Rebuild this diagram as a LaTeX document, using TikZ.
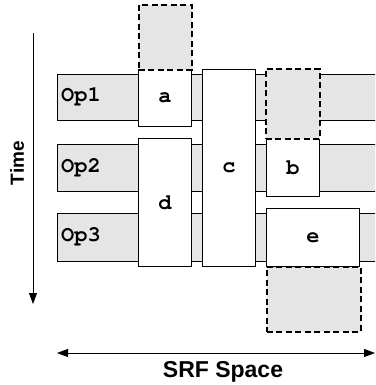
\documentclass[tikz,border=0pt]{standalone}
\usepackage{fontspec}
\setmainfont{Liberation Sans}
\newfontfamily\opmono{TeX Gyre Cursor}
\usetikzlibrary{arrows.meta}
\definecolor{barfill}{RGB}{229,229,229}
\tikzset{
  box/.style={draw, line width=0.8pt, inner sep=0pt, anchor=north west},
  barbox/.style={box, fill=barfill},
  opbox/.style={box, fill=white},
  ghost/.style={box, fill=barfill, line width=1.6pt, dash pattern=on 6pt off 3.5pt},
  oplabel/.style={font=\opmono\bfseries\fontsize{22}{22}\selectfont, inner sep=0pt},
  axislabel/.style={font=\bfseries, inner sep=0pt},
  axis/.style={line width=0.8pt},
}
\begin{document}
\begin{tikzpicture}[x=1pt,y=-1pt]
\useasboundingbox (0,0) rectangle (375,385);
\clip (0,0) rectangle (375,385);
% bars
\node[barbox, minimum width=322pt, minimum height=46pt] (op1) at (57,74) {};
\node[barbox, minimum width=322pt, minimum height=47pt] (op2) at (57,144) {};
\node[barbox, minimum width=322pt, minimum height=48pt] (op3) at (57,213) {};
\node[oplabel, anchor=west] (l1) at (61,97) {Op1};
\node[oplabel, anchor=west] (l2) at (61,167.5) {Op2};
\node[oplabel, anchor=west] (l3) at (61,237) {Op3};
% operation boxes
\node[opbox, minimum width=53pt, minimum height=57pt] (a) at (138,69) {};
\node[opbox, minimum width=53pt, minimum height=197pt] (c) at (202,69) {};
\node[opbox, minimum width=53pt, minimum height=58pt] (b) at (266,138) {};
\node[opbox, minimum width=53pt, minimum height=128pt] (d) at (138,138) {};
\node[opbox, minimum width=93pt, minimum height=58pt] (e) at (266,208) {};
\node[oplabel] at (a.center) {a};
\node[oplabel] at (c.center) {c};
\node[oplabel] at (b.center) {b};
\node[oplabel] at (d.center) {d};
\node[oplabel] at (e.center) {e};
% dashed ghost boxes
\node[ghost, minimum width=53pt, minimum height=65pt] (ga) at (138,4) {};
\node[ghost, minimum width=54pt, minimum height=70pt] (gb) at (265,68) {};
\node[ghost, minimum width=94pt, minimum height=65pt] (ge) at (266,266) {};
% axes
\coordinate (t0) at (33,33);
\coordinate (t1) at (33,304);
\draw[axis, -{Triangle[length=11pt,width=8pt]}] (t0) -- (t1);
\node[axislabel, rotate=90, font=\bfseries\fontsize{19}{19}\selectfont] (time) at (17,163) {Time};
\coordinate (s0) at (57,353);
\coordinate (s1) at (375,353);
\draw[axis, {Triangle[length=11pt,width=8pt]}-{Triangle[length=11pt,width=8pt]}] (s0) -- (s1);
\node[axislabel, font=\bfseries\fontsize{23}{23}\selectfont] (srf) at (223,372) {SRF Space};
\end{tikzpicture}
\end{document}
